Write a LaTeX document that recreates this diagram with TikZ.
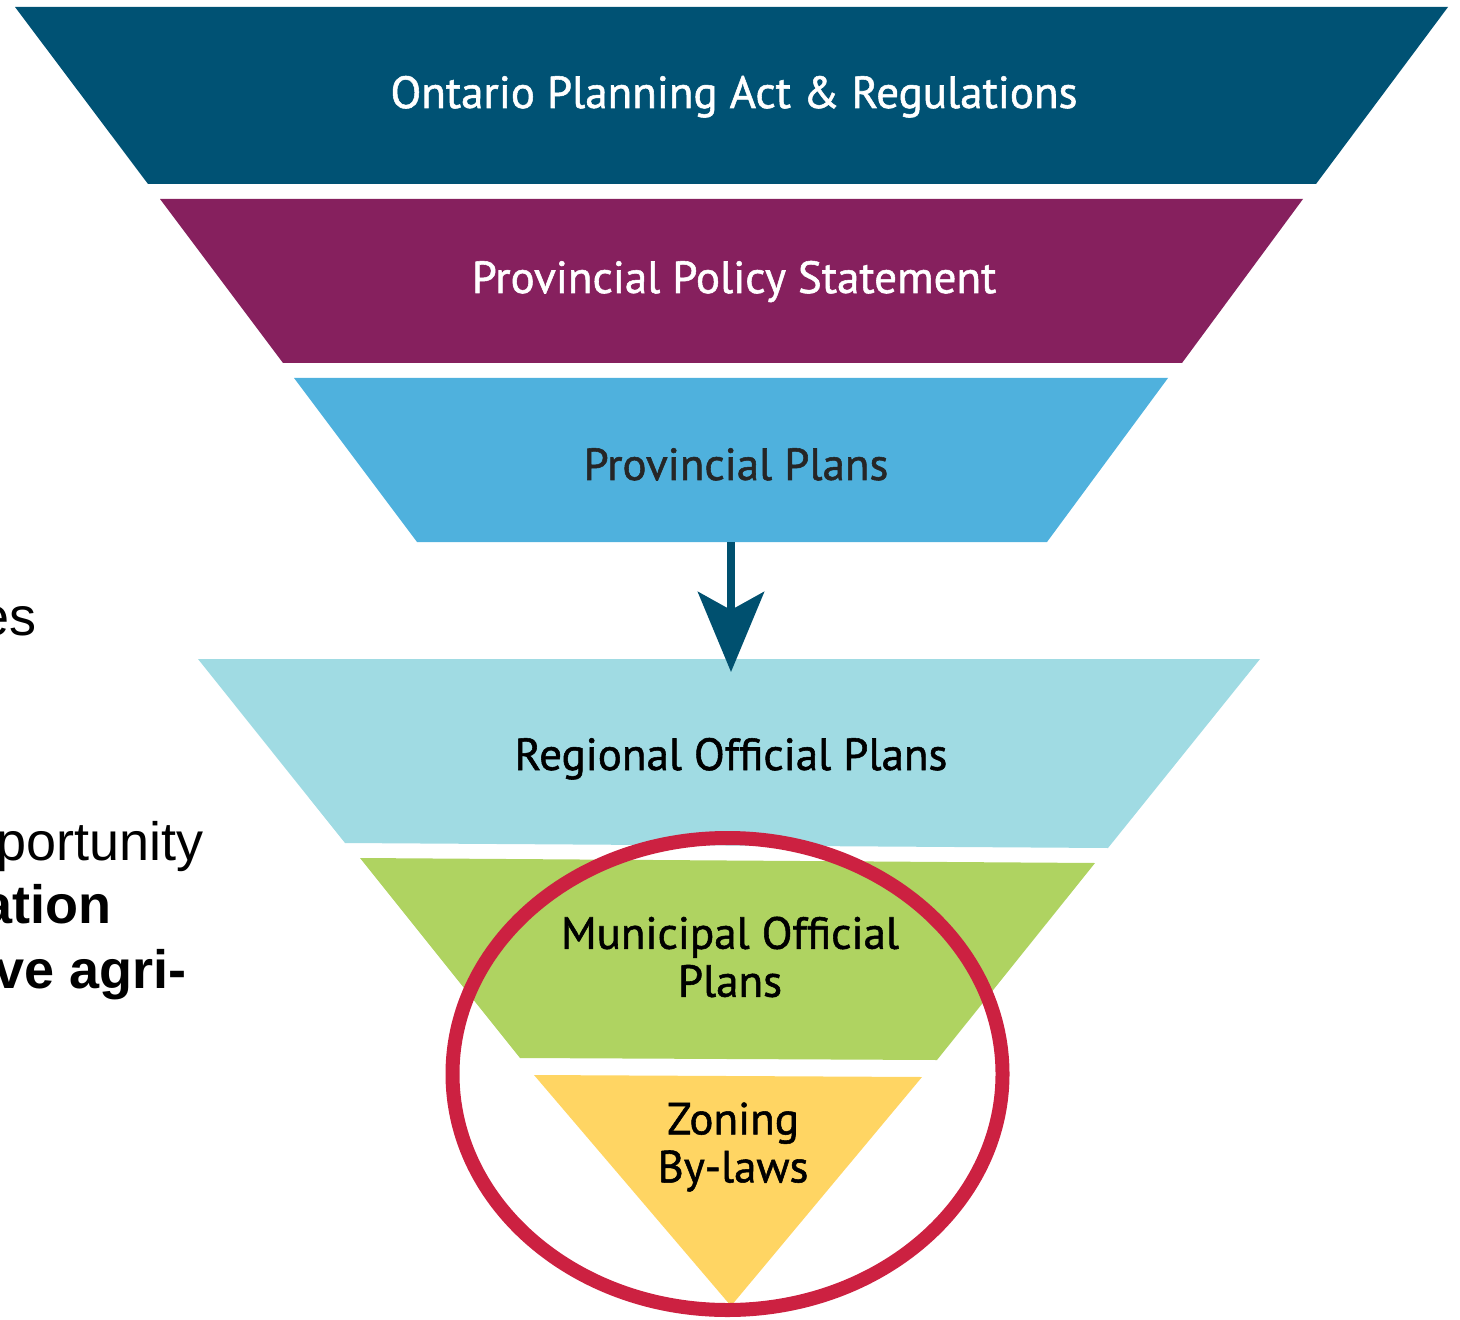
\documentclass[tikz,border=0pt]{standalone}
\usepackage{fontspec}
\setmainfont{PT Sans}
\newfontfamily\levelfont[FakeBold=1.2]{PT Sans}
\newfontfamily\sidefont{Liberation Sans}
\usetikzlibrary{arrows.meta}
\definecolor{actblue}{HTML}{005274}
\definecolor{ppsplum}{HTML}{86205E}
\definecolor{planblue}{HTML}{4FB1DD}
\definecolor{regcyan}{HTML}{A0DBE3}
\definecolor{munigreen}{HTML}{AFD361}
\definecolor{zoneyellow}{HTML}{FFD563}
\definecolor{ringred}{HTML}{CC2141}
\definecolor{arrowblue}{HTML}{00506F}
\tikzset{
  level/.style={font=\levelfont\fontsize{22.5}{24}\selectfont, align=center, inner sep=0pt},
  side/.style={font=\sidefont\fontsize{27}{31}\selectfont, anchor=base east, inner sep=0pt},
}
\begin{document}
\begin{tikzpicture}[x=0.5pt,y=-0.5pt]
\useasboundingbox (0,0) rectangle (1460,1320);
% the funnel, top to bottom
\fill[actblue] (15,7) -- (1448,7) -- (1316,184) -- (148,184) -- cycle;
\fill[ppsplum] (160,199) -- (1303,199) -- (1182,363) -- (283,363) -- cycle;
\fill[planblue] (294,378) -- (1168,378) -- (1047,542) -- (417,542) -- cycle;
\fill[regcyan] (198,659) -- (1260,659) -- (1108,848) -- (345,843) -- cycle;
\fill[munigreen] (360,858) -- (1095,863) -- (937,1060) -- (520,1058) -- cycle;
\fill[zoneyellow] (534,1075) -- (922,1077) -- (731,1306) -- cycle;
% labels
\node[level, anchor=base, text=white] (act) at (734,108) {Ontario Planning Act \& Regulations};
\node[level, anchor=base, text=white] (pps) at (734,293) {Provincial Policy Statement};
\node[level, anchor=base, text=black!85] (pplans) at (736,480) {Provincial Plans};
\node[level, anchor=base] (rop) at (731,770) {Regional Official Plans};
\node[level] (mop) at (730,957) {Municipal Official\\Plans};
\node[level] (zbl) at (733,1147) {Zoning\\By-laws};
% arrow between the provincial and regional levels
\coordinate (pplans-foot) at (731,542);
\coordinate (rop-head) at (731,672);
\draw[arrowblue, line width=4pt, -{Stealth[length=40pt, width=33pt, inset=9pt]}] (pplans-foot) -- (rop-head);
% ring round the local levels
\draw[ringred, line width=7pt] (727.5,1074) ellipse [x radius=137.5pt, y radius=118pt];
% text of the slide, cut at the left edge
\node[side] (s1) at (37,635) {es};
\node[side] (s2) at (204,860) {portunity};
\node[side, font=\sidefont\bfseries\fontsize{27}{31}\selectfont] (s3) at (112,923) {ation};
\node[side, font=\sidefont\bfseries\fontsize{27}{31}\selectfont] (s4) at (187,988) {ve agri-};
\end{tikzpicture}
\end{document}
